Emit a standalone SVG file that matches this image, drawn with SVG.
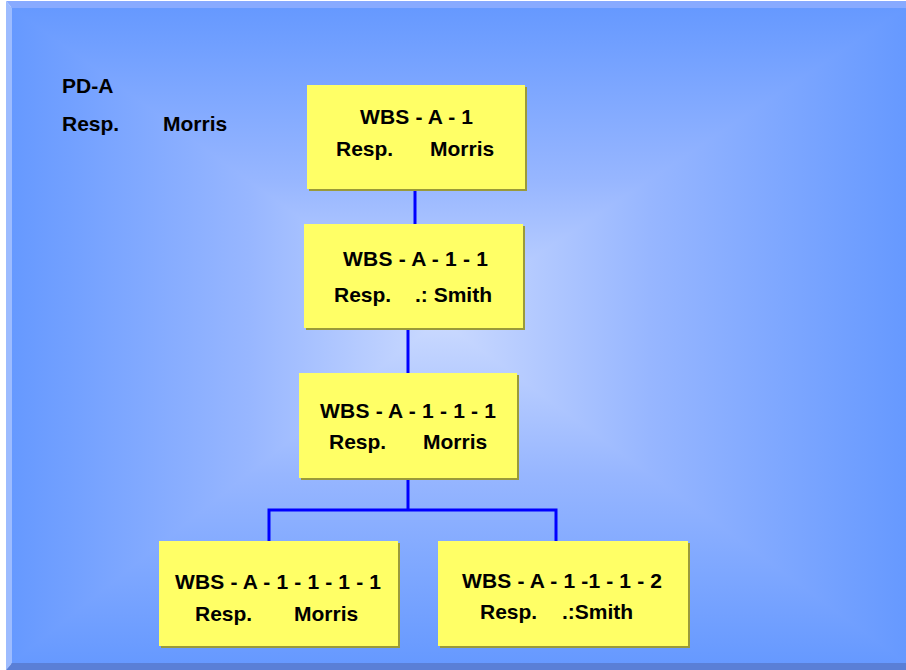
<svg xmlns="http://www.w3.org/2000/svg" width="906" height="670" viewBox="0 0 906 670">
<style>
.box{fill:#ffff66}
.sh{fill:#9a9a3a}
.t{font-family:"Liberation Sans",Arial,sans-serif;font-weight:bold;font-size:21px;fill:#000}
.c{text-anchor:middle}
.ln{stroke:#0000ff;stroke-width:3;fill:none}
</style>
<defs>
<linearGradient id="gT" gradientUnits="userSpaceOnUse" x1="0" y1="320" x2="0" y2="8"><stop offset="0" stop-color="#cbdaff"/><stop offset="0.45" stop-color="#97b6ff"/><stop offset="1" stop-color="#6699ff"/></linearGradient>
<linearGradient id="gB" gradientUnits="userSpaceOnUse" x1="0" y1="320" x2="0" y2="663"><stop offset="0" stop-color="#cbdaff"/><stop offset="0.45" stop-color="#97b6ff"/><stop offset="1" stop-color="#6699ff"/></linearGradient>
<linearGradient id="gL" gradientUnits="userSpaceOnUse" x1="440" y1="0" x2="12" y2="0"><stop offset="0" stop-color="#cbdaff"/><stop offset="0.45" stop-color="#97b6ff"/><stop offset="1" stop-color="#6699ff"/></linearGradient>
<linearGradient id="gR" gradientUnits="userSpaceOnUse" x1="440" y1="0" x2="906" y2="0"><stop offset="0" stop-color="#cbdaff"/><stop offset="0.45" stop-color="#97b6ff"/><stop offset="1" stop-color="#6699ff"/></linearGradient>
</defs>
<g id="background">
<rect x="0" y="0" width="906" height="670" fill="#ffffff"/>
<rect x="12" y="8" width="894" height="655" fill="#97b6ff"/>
<polygon points="12,8 906,8 440,320" fill="url(#gT)" stroke="url(#gT)" stroke-width="1.5"/>
<polygon points="12,663 906,663 440,320" fill="url(#gB)" stroke="url(#gB)" stroke-width="1.5"/>
<polygon points="12,8 12,663 440,320" fill="url(#gL)" stroke="url(#gL)" stroke-width="1.5"/>
<polygon points="906,8 906,663 440,320" fill="url(#gR)" stroke="url(#gR)" stroke-width="1.5"/>
<polygon points="6,1 906,1 906,8 12,8" fill="#88aaff"/>
<polygon points="6,1 12,8 12,663 6,670" fill="#9dbcff"/>
<polygon points="6,670 12,663 906,663 906,670" fill="#5a7fd6"/>
</g>
<g id="title">
<text class="t" x="62" y="93">PD-A</text>
<text class="t" x="62" y="131">Resp.</text>
<text class="t" x="163" y="131">Morris</text>
</g>
<g id="connectors">
<line class="ln" x1="415" y1="189" x2="415" y2="224"/>
<line class="ln" x1="408" y1="328" x2="408" y2="373"/>
<polyline class="ln" points="408,478 408,510"/>
<polyline class="ln" points="269,541 269,510 556,510 556,541"/>
</g>
<g id="n1">
<rect class="sh" x="309" y="87" width="218" height="104"/>
<rect class="box" x="307" y="85" width="218" height="104"/>
<text class="t" x="360" y="124" textLength="113">WBS - A - 1</text>
<text class="t" x="336" y="156">Resp.</text>
<text class="t" x="430" y="156">Morris</text>
</g>
<g id="n2">
<rect class="sh" x="306" y="226" width="219" height="104"/>
<rect class="box" x="304" y="224" width="219" height="104"/>
<text class="t" x="343" y="266" textLength="145">WBS - A - 1 - 1</text>
<text class="t" x="334" y="302">Resp.</text>
<text class="t" x="415" y="302">.: Smith</text>
</g>
<g id="n3">
<rect class="sh" x="301" y="375" width="218" height="105"/>
<rect class="box" x="299" y="373" width="218" height="105"/>
<text class="t" x="320" y="418" textLength="176">WBS - A - 1 - 1 - 1</text>
<text class="t" x="329" y="449">Resp.</text>
<text class="t" x="423" y="449">Morris</text>
</g>
<g id="n4">
<rect class="sh" x="161" y="543" width="239" height="105"/>
<rect class="box" x="159" y="541" width="239" height="105"/>
<text class="t" x="175" y="589" textLength="206">WBS - A - 1 - 1 - 1 - 1</text>
<text class="t" x="195" y="621">Resp.</text>
<text class="t" x="294" y="621">Morris</text>
</g>
<g id="n5">
<rect class="sh" x="440" y="543" width="250" height="105"/>
<rect class="box" x="438" y="541" width="250" height="105"/>
<text class="t" x="462" y="588" textLength="200">WBS - A - 1 -1 - 1 - 2</text>
<text class="t" x="480" y="619">Resp.</text>
<text class="t" x="562" y="619">.:Smith</text>
</g>
</svg>
